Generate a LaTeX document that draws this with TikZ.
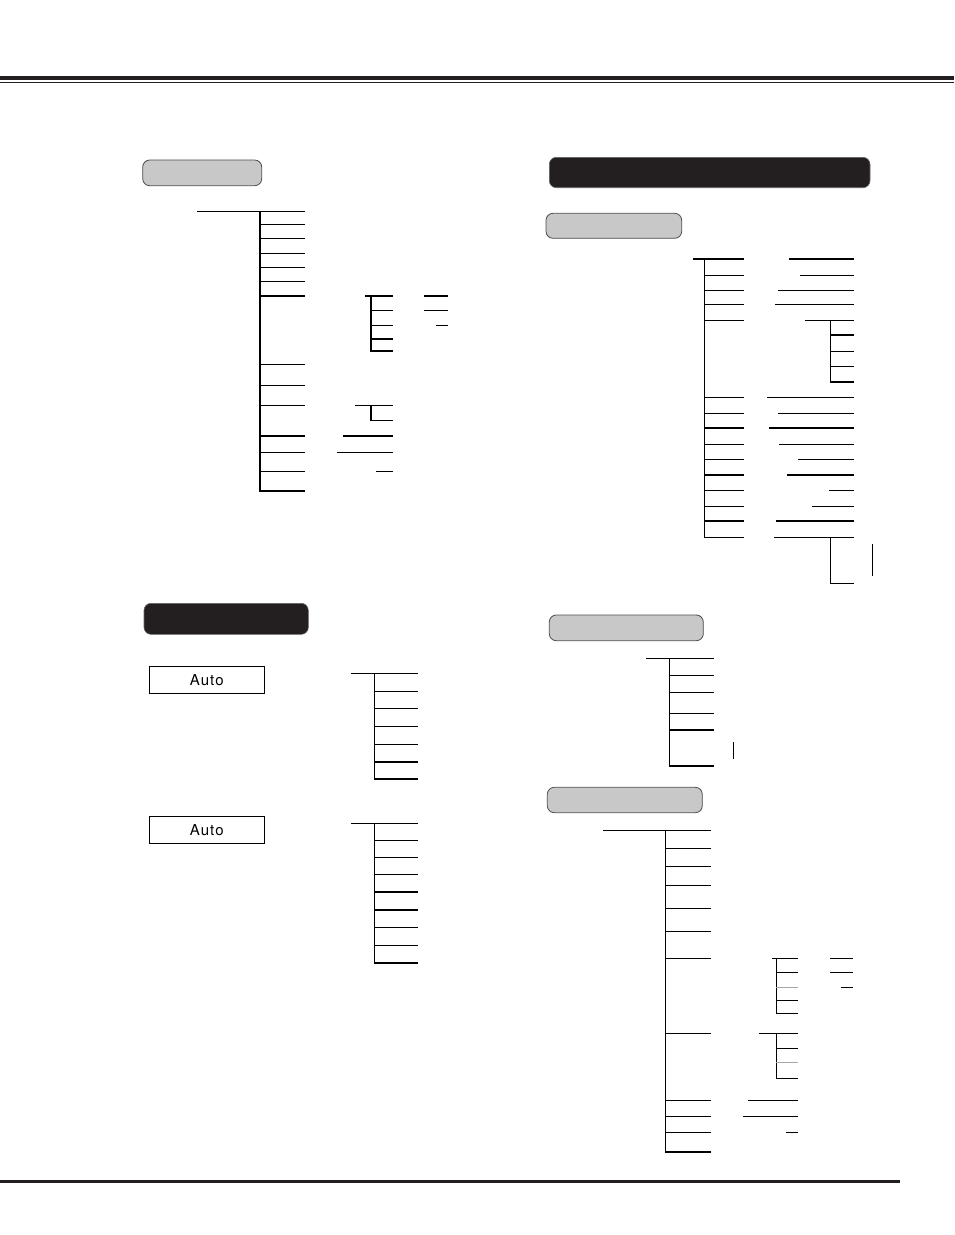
\documentclass[tikz,border=0pt]{standalone}
\usepackage{fontspec}
\setsansfont{TeX Gyre Heros}[LetterSpace=7]
\usepackage{tikz}

\definecolor{barblack}{HTML}{231F20}
\definecolor{tabgray}{HTML}{C8C8C9}
\tikzset{
  tree/.style={line width=1.15pt, line cap=rect},
  graytab/.style={draw=black!70, line width=0.8pt, fill=tabgray, rounded corners=7pt},
  blacktab/.style={draw=black!60, line width=0.6pt, fill=barblack, rounded corners=7pt},
  autobox/.style={draw, line width=0.9pt, minimum width=115pt, minimum height=27pt,
    inner sep=0pt, font=\sffamily\fontsize{15}{15}\selectfont},
}

\begin{document}
\begin{tikzpicture}[x=1pt, y=-1pt]
		\useasboundingbox (0,0) rectangle (954,1235);
		% page rules
		\fill[barblack] (0,76) rectangle (954,80);
		\fill[barblack] (0,82) rectangle (954,83.3);
		\fill[barblack] (0,1180) rectangle (900,1183);

		% tabs
		\draw[graytab] (142.7,160) rectangle (261.7,185.7);
		\draw[blacktab] (549.3,157.3) rectangle (870,187.7);
		\draw[graytab] (546,213.3) rectangle (681.7,238.3);
		\draw[blacktab] (144,603.3) rectangle (308.3,634.3);
		\draw[graytab] (549.3,615) rectangle (703.3,640.7);
		\draw[graytab] (547.3,787.3) rectangle (702.3,812.7);

		% auto boxes
		\node[autobox] (auto1) at (206.8,679.7) {Auto};
		\node[autobox] (auto2) at (206.8,830.2) {Auto};

		% first tree
		\draw[tree] (198,211.7) -- (260,211.7) -- (260,491);
		\foreach \y in {211.7,224.3,238.3,253.3,267.3,281.7,296,364.3,385.3,405.3,436,452.3,471.3,491}
			\draw[tree] (260,\y) -- (304.3,\y);
		\draw[tree] (366,296) -- (371,296) -- (371,351);
		\foreach \y in {296,310.3,325.3,339,351}
			\draw[tree] (371,\y) -- (392.7,\y);
		\draw[tree] (425,296) -- (447.7,296);
		\draw[tree] (425,310.3) -- (447.7,310.3);
		\draw[tree] (436.7,325.3) -- (447.7,325.3);
		\draw[tree] (355.3,405.3) -- (392.7,405.3);
		\draw[tree] (371,405.3) -- (371,420.3) -- (392.7,420.3);
		\draw[tree] (343.7,436) -- (392.7,436);
		\draw[tree] (337.7,452.3) -- (392.7,452.3);
		\draw[tree] (377,471.3) -- (392.7,471.3);

		% second tree
		\draw[tree] (693.3,259) -- (704.7,259) -- (704.7,537.3);
		\foreach \y in {259,275.3,290.3,304.3,320.3,397.3,413.3,428,444.3,459.3,475,490.3,506.3,521,537.3}
			\draw[tree] (704.7,\y) -- (743.7,\y);
		\foreach \y/\x in {259/790,275.3/801,290.3/779,304.3/776,397.3/768,413.3/779,428/770,444.3/780,459.3/799,475/788,490.3/830,506.3/813,521/777}
			\draw[tree] (\x,\y) -- (853.7,\y);
		\draw[tree] (806,320.3) -- (830.3,320.3) -- (830.3,382);
		\foreach \y in {320.3,335,351.3,366.3,382}
			\draw[tree] (830.3,\y) -- (853.7,\y);
		\draw[tree] (775,537.3) -- (853.7,537.3);
		\draw[tree] (830.3,537.3) -- (830.3,583.3) -- (853.7,583.3);
		\draw[tree] (872.3,545) -- (872.3,575);

		% auto trees
		\draw[tree] (352,673.3) -- (374.3,673.3) -- (374.3,779);
		\foreach \y in {673.3,691.3,708.7,726.3,744.3,762,779}
			\draw[tree] (374.3,\y) -- (417.7,\y);
		\draw[tree] (352,823.3) -- (374.3,823.3) -- (374.3,963);
		\foreach \y in {823.3,840.3,857.3,874.3,892,910,927.3,945.3,963}
			\draw[tree] (374.3,\y) -- (417.7,\y);

		% third tree
		\draw[tree] (646.7,658.3) -- (669.3,658.3) -- (669.3,766);
		\foreach \y in {658.3,675.7,692.7,713.3,730,766}
			\draw[tree] (669.3,\y) -- (713.3,\y);
		\draw[tree] (733.3,742.7) -- (733.3,758.3);

		% fourth tree
		\draw[tree] (604,830.7) -- (665.7,830.7) -- (665.7,1152);
		\foreach \y in {830.7,848.3,866.7,885.7,908.3,931.7,958.3,1033.3,1100.7,1116.7,1132.3,1152}
			\draw[tree] (665.7,\y) -- (710,\y);
		\draw[tree] (772.3,958.3) -- (776.3,958.3) -- (776.3,1013.3);
		\foreach \y in {958.3,972.3,1000.7,1013.3}
			\draw[tree] (776.3,\y) -- (797.7,\y);
		\draw[tree, black!35] (776.3,987.3) -- (797.7,987.3);
		\draw[tree] (830.7,958.3) -- (852.7,958.3);
		\draw[tree] (830.7,972.3) -- (852.7,972.3);
		\draw[tree] (841.7,987.3) -- (852.7,987.3);
		\draw[tree] (760,1033.3) -- (776.3,1033.3) -- (776.3,1078.3);
		\foreach \y in {1033.3,1048.3,1078.3}
			\draw[tree] (776.3,\y) -- (797.7,\y);
		\draw[tree, black!35] (776.3,1062.7) -- (797.7,1062.7);
		\draw[tree] (749,1100.7) -- (797.7,1100.7);
		\draw[tree] (743.3,1116.7) -- (797.7,1116.7);
		\draw[tree] (787,1132.3) -- (797.7,1132.3);
		\end{tikzpicture}
\end{document}
